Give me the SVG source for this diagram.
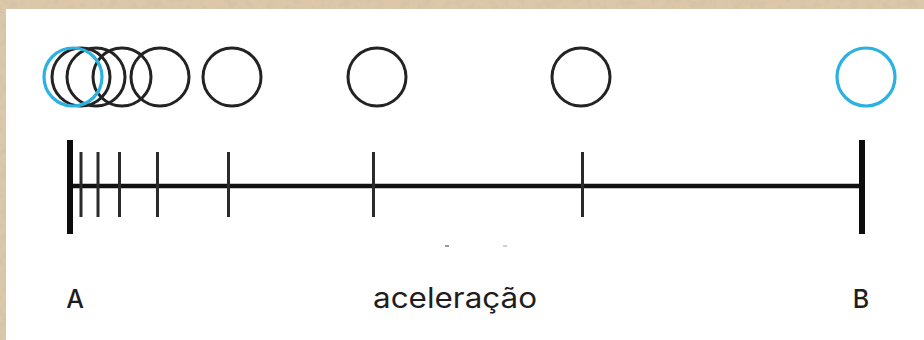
<svg xmlns="http://www.w3.org/2000/svg" width="924" height="340" viewBox="0 0 924 340">
  <defs>
    <filter id="paper" x="0" y="0" width="100%" height="100%">
      <feTurbulence type="fractalNoise" baseFrequency="0.12" numOctaves="4" seed="7" result="n"/>
      <feColorMatrix in="n" type="matrix" values="0 0 0 0 0.62  0 0 0 0 0.52  0 0 0 0 0.38  0 0 0 1.4 -0.55" result="c"/>
      <feComposite in="c" in2="SourceGraphic" operator="over"/>
    </filter>
    <style>
      .ring { fill: none; stroke: #232323; stroke-width: 3; }
      .ring-blue { fill: none; stroke: #2cb1e0; stroke-width: 3.2; }
      .tick { stroke: #2a2a2a; stroke-width: 3; }
      .end { stroke: #0d0d0d; stroke-width: 6; }
      .axis { stroke: #111; stroke-width: 4.5; }
      .lbl { font-family: Inter, "Noto Sans", "Liberation Sans", sans-serif; font-weight: 400; fill: #1e1e1e; }
      .pt { font-weight: 500; font-size: 25px; text-anchor: middle; }
    </style>
  </defs>

  <rect x="0" y="0" width="924" height="340" fill="#dcc8a9" filter="url(#paper)"/>
  <rect x="6" y="9" width="918" height="331" fill="#ffffff"/>

  <g id="positions">
    <circle class="ring" cx="81" cy="77" r="29"/>
    <circle class="ring" cx="96" cy="77" r="29"/>
    <circle class="ring" cx="122" cy="77" r="29"/>
    <circle class="ring" cx="160" cy="77" r="29"/>
    <circle class="ring" cx="232" cy="77" r="29"/>
    <circle class="ring" cx="377" cy="77" r="29"/>
    <circle class="ring" cx="581" cy="77" r="29"/>
    <circle id="ball-A" class="ring-blue" cx="73" cy="77" r="29"/>
    <circle id="ball-B" class="ring-blue" cx="866" cy="77" r="29"/>
  </g>

  <g id="scale">
    <line class="axis" x1="70" y1="186" x2="862" y2="186"/>
    <line class="tick" x1="81" y1="152" x2="81" y2="217"/>
    <line class="tick" x1="98" y1="152" x2="98" y2="217"/>
    <line class="tick" x1="119.5" y1="152" x2="119.5" y2="217"/>
    <line class="tick" x1="157.5" y1="152" x2="157.5" y2="217"/>
    <line class="tick" x1="228.5" y1="152" x2="228.5" y2="217"/>
    <line class="tick" x1="373.5" y1="152" x2="373.5" y2="217"/>
    <line class="tick" x1="582.5" y1="152" x2="582.5" y2="217"/>
    <line class="end" x1="70" y1="140" x2="70" y2="234"/>
    <line class="end" x1="862" y1="140" x2="862" y2="234"/>
    <rect x="445" y="245" width="4" height="2" fill="#9a9a9a"/>
    <rect x="503" y="245" width="4" height="2" fill="#d0d0d0"/>
  </g>

  <g id="labels">
    <text class="lbl pt" x="75" y="308">A</text>
    <text class="lbl" x="373" y="308" font-size="28" textLength="164" lengthAdjust="spacingAndGlyphs">aceleração</text>
    <text class="lbl pt" x="861" y="308">B</text>
  </g>
</svg>
